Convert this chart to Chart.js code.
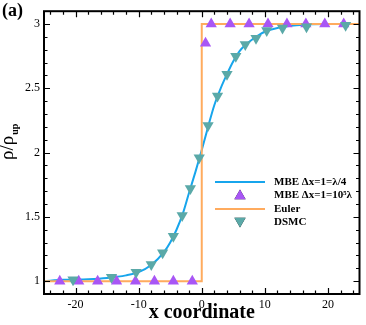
<!DOCTYPE html>
<html>
<head>
<meta charset="utf-8">
<script src="https://cdn.jsdelivr.net/npm/chart.js@4/dist/chart.umd.min.js"></script>
<style>
  html, body { margin: 0; padding: 0; background: #fff; }
</style>
</head>
<body>
<canvas id="grafico" width="366" height="325"></canvas>
<script>
// datos
const mbeX = [-25, -22, -18, -15, -12, -10, -8, -6, -5, -4, -3, -2, -1, 0, 1, 2, 3, 4, 5, 6, 7, 8, 10, 12, 15, 20, 25];
const mbeRho = [1.0, 1.01, 1.015, 1.025, 1.045, 1.07, 1.125, 1.225, 1.30, 1.40, 1.525, 1.69, 1.85, 2.02, 2.20, 2.37, 2.50, 2.61, 2.71, 2.79, 2.84, 2.88, 2.94, 2.97, 2.99, 3.0, 3.0];

const mbe2X = [-22.5, -19.5, -16.5, -13.5, -10.5, -7.5, -4.5, -1.5, 0.6, 1.5, 4.5, 7.5, 10.5, 13.5, 16.5, 19.5, 22.5];
const mbe2Rho = [1, 1, 1, 1, 1, 1, 1, 1, 2.85, 3, 3, 3, 3, 3, 3, 3, 3];

const eulerX = [-25, 0, 0, 25];
const eulerRho = [1, 1, 3, 3];

const dsmcX = [-20.4, -14.3, -10.4, -8.0, -6.2, -4.5, -3.1, -1.8, -0.4, 1.0, 2.5, 4.0, 5.4, 6.9, 8.6, 10.3, 12.8, 16.6, 22.8];
const dsmcRho = [1.01, 1.03, 1.07, 1.13, 1.22, 1.35, 1.51, 1.72, 1.96, 2.21, 2.44, 2.61, 2.75, 2.84, 2.89, 2.95, 2.97, 2.98, 2.99];

const xTicks = [-20, -10, 0, 10, 20];
const yTicks = [1, 1.5, 2, 2.5, 3];

const etiquetas = ['MBE \u0394x=1=\u03bb/4', 'MBE \u0394x=1=10\u2075\u03bb', 'Euler', 'DSMC'];

const azul = '#17a5ec';
const morado = '#a856f5';
const naranja = '#ffab5e';
const verde = '#5aa9a8';
const serif = '"Liberation Serif", "DejaVu Serif", serif';

const puntos = (xs, ys) => xs.map((x, i) => ({x: x, y: ys[i]}));

// ticks hacia adentro, marco y leyenda
const marco = {
    id: 'marco',
    afterDraw(chart) {
        const ctx = chart.ctx;
        const a = chart.chartArea;
        const sx = chart.scales.x, sy = chart.scales.y;
        ctx.save();
        ctx.strokeStyle = '#000';
        ctx.lineWidth = 1.2;
        ctx.beginPath();
        for (let v = -24; v <= 24; v += 2) {
            const p = Math.round(sx.getPixelForValue(v)) + 0.5;
            const largo = v % 10 === 0 ? 6 : 3.5;
            ctx.moveTo(p, a.bottom); ctx.lineTo(p, a.bottom - largo);
            ctx.moveTo(p, a.top); ctx.lineTo(p, a.top + largo);
        }
        for (let k = 10; k <= 30; k++) {
            const v = k / 10;
            const p = Math.round(sy.getPixelForValue(v)) + 0.5;
            const largo = k % 5 === 0 ? 6 : 3.5;
            ctx.moveTo(a.left, p); ctx.lineTo(a.left + largo, p);
            ctx.moveTo(a.right, p); ctx.lineTo(a.right - largo, p);
        }
        ctx.stroke();
        ctx.lineWidth = 2;
        ctx.strokeRect(a.left, a.top, a.right - a.left, a.bottom - a.top);

        // leyenda
        const filas = [182, 195, 209, 222];
        const ds = chart.data.datasets;
        ctx.font = 'bold 11px ' + serif;
        ctx.textBaseline = 'middle';
        ctx.textAlign = 'left';
        ds.forEach((d, i) => {
            const y = filas[i];
            if (d.showLine) {
                ctx.strokeStyle = d.borderColor;
                ctx.lineWidth = 2;
                ctx.beginPath();
                ctx.moveTo(215, y); ctx.lineTo(265, y);
                ctx.stroke();
            } else {
                Chart.helpers.drawPoint(ctx, {
                    pointStyle: 'triangle', radius: 6.5, rotation: d.rotation || 0,
                    borderWidth: 0
                }, 240, y + (d.rotation ? -1 : 1));
                ctx.fillStyle = d.backgroundColor;
                ctx.fill();
            }
            ctx.fillStyle = '#000';
            ctx.fillText(d.label, 274, y);
        });

        // titulo eje y
        ctx.save();
        ctx.translate(13, 160);
        ctx.rotate(-Math.PI / 2);
        ctx.textBaseline = 'alphabetic';
        ctx.font = '19px ' + serif;
        ctx.fillText('\u03c1/\u03c1', 0, 0);
        const w = ctx.measureText('\u03c1/\u03c1').width;
        ctx.font = 'bold 10px ' + serif;
        ctx.fillText('up', w + 1, 5);
        ctx.restore();

        ctx.font = 'bold 18px ' + serif;
        ctx.textBaseline = 'alphabetic';
        ctx.fillText('(a)', 2, 16);
        ctx.restore();
    }
};

new Chart(document.getElementById('grafico'), {
    type: 'scatter',
    data: {
        datasets: [
            {label: etiquetas[0], data: puntos(mbeX, mbeRho), showLine: true, borderColor: azul,
             borderWidth: 2, pointRadius: 0, cubicInterpolationMode: 'monotone', order: 3},
            {label: etiquetas[1], data: puntos(mbe2X, mbe2Rho), pointStyle: 'triangle', pointRadius: 6.5,
             backgroundColor: morado, borderColor: morado, borderWidth: 0, order: 1},
            {label: etiquetas[2], data: puntos(eulerX, eulerRho), showLine: true, borderColor: naranja,
             borderWidth: 2, pointRadius: 0, tension: 0, order: 2},
            {label: etiquetas[3], data: puntos(dsmcX, dsmcRho), pointStyle: 'triangle', rotation: 180,
             pointRadius: 6.5, backgroundColor: verde, borderColor: verde, borderWidth: 0, order: 0}
        ]
    },
    options: {
        responsive: false,
        animation: false,
        devicePixelRatio: 1,
        layout: {padding: {top: 5, right: 4, left: 0, bottom: 0}},
        plugins: {legend: {display: false}, tooltip: {enabled: false}},
        scales: {
            x: {
                type: 'linear', min: -25, max: 25,
                afterBuildTicks: s => { s.ticks = xTicks.map(v => ({value: v})); },
                afterFit: s => { s.height = 31; },
                grid: {display: false, drawTicks: false},
                border: {display: false},
                ticks: {padding: 4, color: '#000', font: {family: serif, size: 12},
                        callback: v => String(v)},
                title: {display: true, text: 'x coordinate', color: '#000', padding: 0,
                        font: {family: serif, size: 20, weight: 'bold'}}
            },
            y: {
                type: 'linear', min: 0.9, max: 3.1,
                afterBuildTicks: s => { s.ticks = yTicks.map(v => ({value: v})); },
                afterFit: s => { s.width = 44; },
                grid: {display: false, drawTicks: false},
                border: {display: false},
                ticks: {padding: 4, color: '#000', font: {family: serif, size: 12},
                        callback: v => String(v)}
            }
        }
    },
    plugins: [marco]
});
</script>
</body>
</html>
